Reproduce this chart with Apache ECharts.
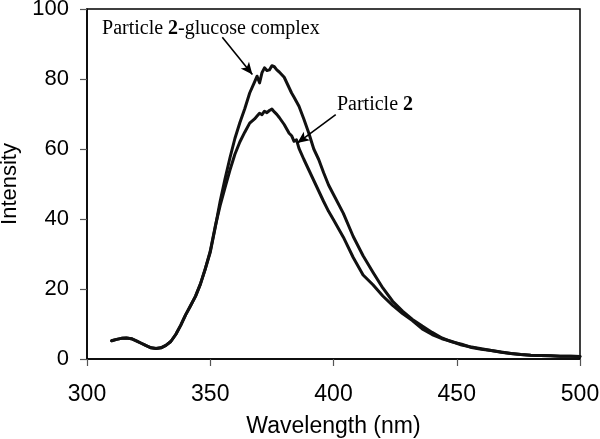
<!DOCTYPE html>
<html>
<head>
<meta charset="utf-8">
<script src="https://cdn.jsdelivr.net/npm/echarts@6/dist/echarts.min.js"></script>
<style>html,body{margin:0;padding:0;background:#fff}#chart{width:600px;height:439px}</style>
</head>
<body>
<div id="chart"></div>
<script>
// Wavelength (nm)
const wavelengths = [310,312,314,316,318,320,322,324,326,328,330,332,334,336,338,340,342,344,346,348,350,352,354,356,358,360,362,364,366,368,369,370,371,372,373,374,375,376,377,378,380,382,383,384,385,386,388,390,392,394,396,398,400,404,408,412,416,420,424,428,432,436,440,444,448,452,456,460,464,468,472,476,480,484,488,492,496,500];
// Particle 2-glucose complex
const complexIntensity = [5.2,5.6,5.9,6.0,5.8,5.2,4.5,3.8,3.2,3.0,3.2,3.9,5.0,7.0,9.6,12.6,15.2,17.9,21.4,25.8,30.5,37.5,45.0,51.5,57.5,63.0,67.5,71.5,76.0,79.2,80.8,78.9,81.8,83.2,82.4,82.6,83.8,83.5,82.6,82.0,80.5,77.5,76.0,74.8,73.5,72.2,68.5,64.5,60.0,57.0,53.2,49.7,47.0,41.6,35.0,29.5,24.8,20.3,16.5,13.7,11.3,9.4,7.6,6.0,4.9,4.2,3.3,2.8,2.4,1.9,1.6,1.3,1.1,1.0,0.9,0.8,0.8,0.7];
// Particle 2
const particleIntensity = [5.2,5.6,5.9,6.0,5.8,5.2,4.5,3.8,3.2,3.0,3.2,3.9,5.0,7.0,9.6,12.6,15.2,17.9,21.4,25.8,30.8,37.8,43.8,49.0,54.0,58.5,62.0,64.8,67.4,68.6,69.4,70.2,69.8,70.8,70.4,71.0,71.4,70.6,69.9,69.0,67.0,64.5,63.8,62.2,62.6,60.2,57.0,54.0,51.0,48.0,45.0,42.2,39.8,34.8,29.0,24.0,21.2,18.0,15.3,13.0,11.0,8.6,7.0,5.8,5.0,4.0,3.4,2.9,2.4,2.0,1.6,1.3,1.1,1.0,0.9,0.8,0.8,0.7];
// Axis ticks
const xTicks = [300,350,400,450,500];
const yTicks = [0,20,40,60,80,100];
// Annotations (data coordinates)
const complexLabelAt = [306.1, 94.4];
const complexArrow = [[354.9, 91.9],[367.1, 81.3]];
const particleLabelAt = [401.4, 72.6];
const particleArrow = [[400.9, 69.8],[385.3, 61.7]];

const serif = '"Liberation Serif","Times New Roman",serif';
const sans = '"Liberation Sans",Arial,sans-serif';

const chart = echarts.init(document.getElementById('chart'), null, {renderer:'canvas'});
const lineStyle = {color:'#111', width:3, join:'round', cap:'round'};
function pairs(xs, ys){ return xs.map((x,i)=>[x, ys[i]]); }
function labelPoint(at, rich, text){
  return {
    symbol:'circle', symbolSize:0, silent:true,
    data:[{coord:at, value:0}],
    label:{show:true, position:'right', distance:0, formatter:text, rich:rich, color:'#000'}
  };
}
const richSerif = {
  a:{fontFamily:serif, fontSize:20, color:'#000'},
  b:{fontFamily:serif, fontSize:20, fontWeight:'bold', color:'#000'}
};
const arrowLine = function(seg){
  return {
    silent:true, symbol:['none','arrow'], symbolSize:[8,12],
    lineStyle:{color:'#000', width:1.6, type:'solid'},
    label:{show:false},
    data:[[{coord:seg[0]},{coord:seg[1]}]]
  };
};
chart.setOption({
  animation:false,
  backgroundColor:'#fff',
  grid:{left:87, right:20, top:9, bottom:80, outerBoundsMode:'none', containLabel:false,
        show:true, borderColor:'#000', borderWidth:1.5, backgroundColor:'transparent'},
  xAxis:{
    type:'value', min:xTicks[0], max:xTicks[xTicks.length-1], interval:50,
    name:'Wavelength (nm)', nameLocation:'middle', nameGap:56,
    nameTextStyle:{fontFamily:sans, fontSize:23, color:'#000'},
    axisLine:{show:true, onZero:false, lineStyle:{color:'#000', width:1.5}},
    axisTick:{show:true, inside:false, length:7, lineStyle:{color:'#555', width:1.2}},
    axisLabel:{fontFamily:sans, fontSize:23, color:'#000', margin:24},
    splitLine:{show:false}
  },
  yAxis:{
    type:'value', min:yTicks[0], max:yTicks[yTicks.length-1], interval:20,
    name:'Intensity', nameLocation:'middle', nameGap:63, nameRotate:90,
    nameTextStyle:{fontFamily:sans, fontSize:22, color:'#000'},
    axisLine:{show:true, lineStyle:{color:'#000', width:1.5}},
    axisTick:{show:true, inside:false, length:7, lineStyle:{color:'#555', width:1.2}},
    axisLabel:{fontFamily:sans, fontSize:22, color:'#000', margin:18},
    splitLine:{show:false}
  },
  series:[
    {
      name:'Particle 2-glucose complex', type:'line', showSymbol:false, symbol:'none',
      data:pairs(wavelengths, complexIntensity), lineStyle:lineStyle, z:3,
      markLine:arrowLine(complexArrow),
      markPoint:labelPoint(complexLabelAt, richSerif, '{a|Particle }{b|2}{a|-glucose complex}')
    },
    {
      name:'Particle 2', type:'line', showSymbol:false, symbol:'none',
      data:pairs(wavelengths, particleIntensity), lineStyle:lineStyle, z:3,
      markLine:arrowLine(particleArrow),
      markPoint:labelPoint(particleLabelAt, richSerif, '{a|Particle }{b|2}')
    }
  ]
});
</script>
</body>
</html>
